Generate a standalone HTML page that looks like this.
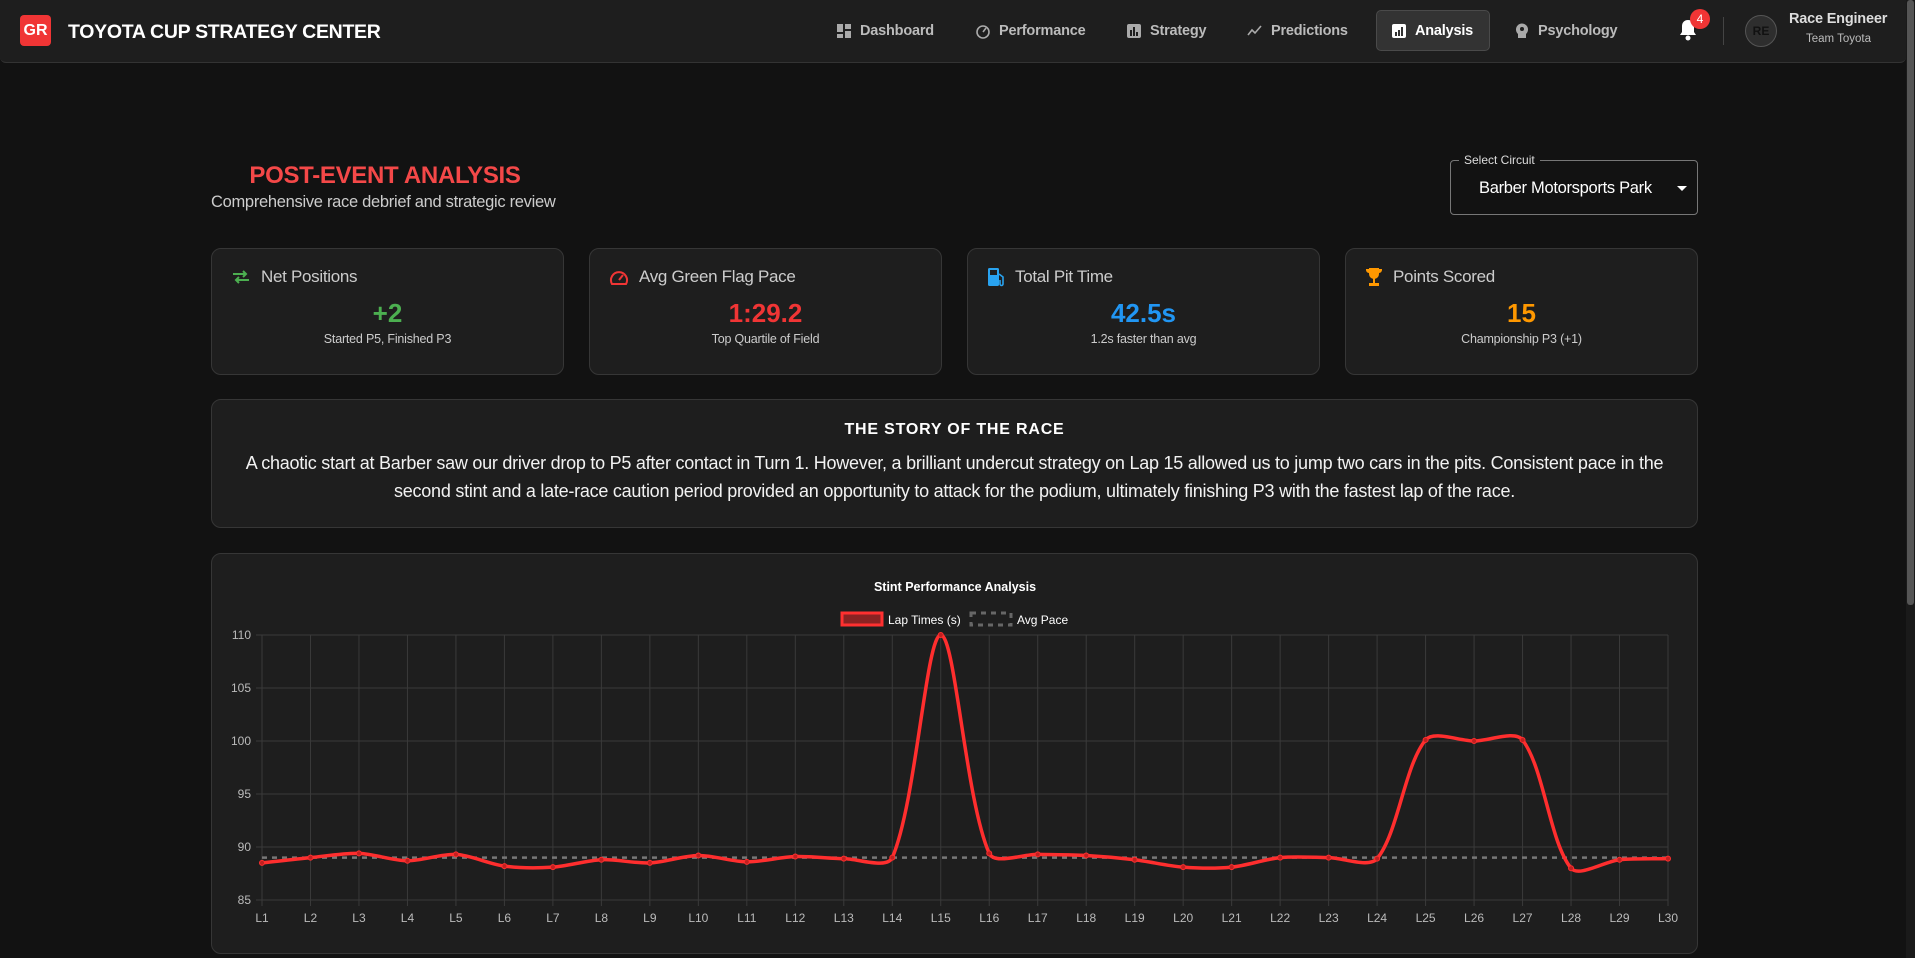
<!DOCTYPE html>
<html><head><meta charset="utf-8">
<style>
*{box-sizing:border-box;margin:0;padding:0}
body{width:1915px;height:958px;overflow:hidden;background:#121212;font-family:"Liberation Sans",sans-serif;color:#fff;position:relative}
.abs{position:absolute}
header{position:absolute;left:0;top:0;width:1906px;height:63px;background:#1e1e1e;border-bottom:1px solid #333;border-radius:0 0 6px 6px}
.logo{left:20px;top:15px;width:31px;height:31px;background:#f03535;border-radius:4px;font-weight:bold;font-size:16px;text-align:center;line-height:31px}
.brand{left:68px;top:21px;font-size:19.5px;font-weight:bold;letter-spacing:-0.3px}
.nav{top:23px;font-size:14.5px;font-weight:bold;color:#bbb;display:flex;align-items:center;gap:8px;letter-spacing:-0.2px}
.nav svg{width:16px;height:16px}
.active{left:1376px;top:10px;width:114px;height:41px;background:#333;border:1px solid #4a4a4a;border-radius:5px}
.card{position:absolute;background:#1e1e1e;border:1px solid #363636;border-radius:10px}
.ct{position:absolute;left:0;top:18px;font-size:17px;color:#ccc;display:flex;align-items:center;gap:10px;letter-spacing:-0.3px}
.cv{position:absolute;left:0;right:0;top:49px;text-align:center;font-size:26px;font-weight:bold}
.cs{position:absolute;left:0;right:0;top:83px;text-align:center;font-size:12.5px;color:#ccc;letter-spacing:-0.2px}
.scroll{right:0;top:0;width:9px;height:958px;background:#1a1a1a}
.thumb{right:1px;top:0;width:7px;height:605px;background:#555;border-radius:3px}
</style></head><body>
<header>
<div class="abs logo">GR</div>
<div class="abs brand">TOYOTA CUP STRATEGY CENTER</div>
<div class="abs active"></div>
<div class="abs nav" style="left:836px"><svg viewBox="0 0 16 16"><rect x="1" y="1" width="6" height="8" fill="#aaa"/><rect x="9" y="1" width="6" height="5" fill="#aaa"/><rect x="1" y="11" width="6" height="4" fill="#aaa"/><rect x="9" y="8" width="6" height="7" fill="#aaa"/></svg><span>Dashboard</span></div>
<div class="abs nav" style="left:975px"><svg viewBox="0 0 16 16"><circle cx="8" cy="9" r="6" fill="none" stroke="#aaa" stroke-width="1.6"/><path d="M8 9l3-4" stroke="#aaa" stroke-width="1.6"/></svg><span>Performance</span></div>
<div class="abs nav" style="left:1126px"><svg viewBox="0 0 16 16"><rect x="1" y="1" width="14" height="14" rx="2" fill="#aaa"/><rect x="4" y="7" width="2" height="6" fill="#1e1e1e"/><rect x="7" y="4" width="2" height="9" fill="#1e1e1e"/><rect x="10" y="9" width="2" height="4" fill="#1e1e1e"/></svg><span>Strategy</span></div>
<div class="abs nav" style="left:1247px"><svg viewBox="0 0 16 16"><path d="M1 12l4-5 3 3 6-7" fill="none" stroke="#aaa" stroke-width="1.6"/></svg><span>Predictions</span></div>
<div class="abs nav" style="left:1391px;color:#fff"><svg viewBox="0 0 16 16"><rect x="1" y="1" width="14" height="14" rx="2" fill="#fff"/><rect x="4" y="9" width="2" height="4" fill="#333"/><rect x="7" y="7" width="2" height="6" fill="#333"/><rect x="10" y="4" width="2" height="9" fill="#333"/></svg><span>Analysis</span></div>
<div class="abs nav" style="left:1514px"><svg viewBox="0 0 16 16"><path d="M4 15v-4a6 6 0 1 1 8 0v4z" fill="#aaa"/><circle cx="8" cy="6" r="2" fill="#1e1e1e"/></svg><span>Psychology</span></div>
<svg class="abs" style="left:1679px;top:19px" width="18" height="22" viewBox="0 0 18 22"><path d="M9 1c-4 0-6 3-6 6v6l-2 3h16l-2-3V7c0-3-2-6-6-6z" fill="#fff"/><circle cx="9" cy="19" r="2.5" fill="#fff"/></svg>
<div class="abs" style="left:1690px;top:9px;width:20px;height:20px;border-radius:50%;background:#f03535;font-size:12px;text-align:center;line-height:20px">4</div>
<div class="abs" style="left:1723px;top:17px;width:1px;height:28px;background:#444"></div>
<div class="abs" style="left:1745px;top:15px;width:32px;height:32px;border-radius:50%;background:#2e2e2e;border:1px solid #555;color:#111;font-size:12px;font-weight:bold;text-align:center;line-height:30px">RE</div>
<div class="abs" style="left:1789px;top:11px;font-size:14.5px;font-weight:bold;color:#ddd;letter-spacing:-0.2px">Race Engineer</div>
<div class="abs" style="left:1806px;top:33px;font-size:11.5px;color:#bbb">Team Toyota</div>
</header>
<div class="abs scroll"></div>
<div class="abs thumb"></div>

<div class="abs" style="left:211px;top:162px;width:348px;text-align:center;font-size:24px;font-weight:bold;color:#f44848;letter-spacing:-0.3px">POST-EVENT ANALYSIS</div>
<div class="abs" style="left:211px;top:193px;font-size:16.5px;color:#ccc;letter-spacing:-0.3px">Comprehensive race debrief and strategic review</div>

<div class="abs" style="left:1450px;top:160px;width:248px;height:55px;border:1px solid #777;border-radius:4px">
<div class="abs" style="left:8px;top:-8px;background:#121212;padding:0 5px;font-size:12px;color:#ddd">Select Circuit</div>
<div class="abs" style="left:28px;top:18px;font-size:16.5px;color:#fff;letter-spacing:-0.3px">Barber Motorsports Park</div>
<div class="abs" style="left:226px;top:25px;width:0;height:0;border-left:5px solid transparent;border-right:5px solid transparent;border-top:5px solid #fff"></div>
</div>

<div class="card" style="left:211px;top:248px;width:353px;height:127px">
<div class="ct" style="left:19px"><svg width="20" height="16" viewBox="0 0 20 16"><path d="M2 5h13M12 2l3 3-3 3M18 11H5M8 8l-3 3 3 3" fill="none" stroke="#4caf50" stroke-width="2"/></svg>Net Positions</div>
<div class="cv" style="color:#4caf50">+2</div>
<div class="cs">Started P5, Finished P3</div></div>
<div class="card" style="left:589px;top:248px;width:353px;height:127px">
<div class="ct" style="left:19px"><svg width="20" height="18" viewBox="0 0 20 18"><path d="M3 16a8 8 0 1 1 14 0z" fill="none" stroke="#f03535" stroke-width="2"/><path d="M10 12l4-5" stroke="#f03535" stroke-width="2"/></svg>Avg Green Flag Pace</div>
<div class="cv" style="color:#f03535">1:29.2</div>
<div class="cs">Top Quartile of Field</div></div>
<div class="card" style="left:967px;top:248px;width:353px;height:127px">
<div class="ct" style="left:19px"><svg width="18" height="20" viewBox="0 0 18 20"><rect x="1" y="1" width="11" height="18" rx="1.5" fill="#29a3f0"/><rect x="3" y="3" width="7" height="5" fill="#1e1e1e"/><path d="M12 7l4 3v7a1.5 1.5 0 0 1-3 0v-4" fill="none" stroke="#29a3f0" stroke-width="1.6"/></svg>Total Pit Time</div>
<div class="cv" style="color:#2196f3">42.5s</div>
<div class="cs">1.2s faster than avg</div></div>
<div class="card" style="left:1345px;top:248px;width:353px;height:127px">
<div class="ct" style="left:19px"><svg width="18" height="20" viewBox="0 0 18 20"><path d="M4 1h10v6a5 5 0 0 1-10 0z M1 2h3v4a3 3 0 0 1-3-3z M17 2h-3v4a3 3 0 0 0 3-3z" fill="#ff9800"/><rect x="8" y="11" width="2" height="5" fill="#ff9800"/><rect x="4" y="16" width="10" height="3" fill="#ff9800"/></svg>Points Scored</div>
<div class="cv" style="color:#ff9800">15</div>
<div class="cs">Championship P3 (+1)</div></div>

<div class="card" style="left:211px;top:399px;width:1487px;height:129px">
<div class="abs" style="left:0;right:0;top:21px;text-align:center;font-size:16px;font-weight:bold;letter-spacing:0.8px">THE STORY OF THE RACE</div>
<div class="abs" style="left:0;right:0;top:49px;text-align:center;font-size:18px;line-height:28px;color:#f2f2f2;letter-spacing:-0.25px;white-space:nowrap">A chaotic start at Barber saw our driver drop to P5 after contact in Turn 1. However, a brilliant undercut strategy on Lap 15 allowed us to jump two cars in the pits. Consistent pace in the<br>second stint and a late-race caution period provided an opportunity to attack for the podium, ultimately finishing P3 with the fastest lap of the race.</div>
</div>

<div class="card" style="left:211px;top:553px;width:1487px;height:401px"></div>
<svg id="chart" class="abs" style="left:0;top:0" width="1915" height="958"></svg>

<script>
const categories = ["L1","L2","L3","L4","L5","L6","L7","L8","L9","L10","L11","L12","L13","L14","L15","L16","L17","L18","L19","L20","L21","L22","L23","L24","L25","L26","L27","L28","L29","L30"];
const lapTimes = [88.5,89.0,89.4,88.7,89.3,88.2,88.1,88.8,88.5,89.2,88.6,89.1,88.9,89.0,110,89.4,89.3,89.2,88.8,88.1,88.1,89.0,89.0,88.9,100.1,100.0,100.1,88.0,88.8,88.9];
const avgPace = 89.0;
const yTicks = [85,90,95,100,105,110];

const NS="http://www.w3.org/2000/svg";
const svg=document.getElementById('chart');
const L=262,R=1668,T=635,B=900,yMin=85,yMax=110;
const xPos=i=>L+(R-L)*i/(categories.length-1);
const yPos=v=>B-(B-T)*(v-yMin)/(yMax-yMin);
function mk(tag,attrs,parent){const e=document.createElementNS(NS,tag);for(const k in attrs)e.setAttribute(k,attrs[k]);(parent||svg).appendChild(e);return e;}

let t=mk('text',{x:955,y:591,'text-anchor':'middle','font-size':'12.5','font-weight':'bold',fill:'#fff','font-family':'Liberation Sans'});
t.textContent='Stint Performance Analysis';


let lg=mk('g',{});


mk('rect',{x:842,y:613,width:40,height:12,fill:'#8b2323',stroke:'#ff3030','stroke-width':3},lg);
t=mk('text',{x:888,y:624,'font-size':12,fill:'#fff','font-family':'Liberation Sans'},lg);t.textContent='Lap Times (s)';
mk('rect',{x:971,y:613,width:40,height:12,fill:'none',stroke:'#666','stroke-width':3,'stroke-dasharray':'5 5'},lg);
t=mk('text',{x:1017,y:624,'font-size':12,fill:'#fff','font-family':'Liberation Sans'},lg);t.textContent='Avg Pace';

yTicks.forEach(v=>{
  const y=yPos(v);
  const g=mk('line',{x1:L-6,x2:R,y1:y,y2:y,stroke:'#3a3a3a','stroke-width':1});
  
  
  const tx=mk('text',{x:L-11,y:y+4,'text-anchor':'end','font-size':12,fill:'#bbb','font-family':'Liberation Sans'});
  tx.textContent=v;
  
  
});
categories.forEach((c,i)=>{
  const x=xPos(i);
  const g=mk('line',{x1:x,x2:x,y1:T,y2:B+6,stroke:'#3a3a3a','stroke-width':1});
  
  
  const tx=mk('text',{x:x,y:922,'text-anchor':'middle','font-size':12,fill:'#bbb','font-family':'Liberation Sans'});
  tx.textContent=c;
  
  
});
const av=mk('line',{x1:L,x2:R,y1:yPos(avgPace),y2:yPos(avgPace),stroke:'#777','stroke-width':2.5,'stroke-dasharray':'5 5'});


const pts=lapTimes.map((v,i)=>({x:xPos(i),y:yPos(v)}));
const tension=0.3;
let d='M'+pts[0].x+' '+pts[0].y;
const cps=pts.map((p,i)=>{
  const pr=pts[i-1]||p, nx=pts[i+1]||p;
  const d01=Math.hypot(p.x-pr.x,p.y-pr.y), d12=Math.hypot(nx.x-p.x,nx.y-p.y);
  let s01=d01/(d01+d12||1), s12=d12/(d01+d12||1);
  const fa=tension*s01, fb=tension*s12;
  const cl=(v)=>Math.max(T,Math.min(B,v));
  return {px:p.x-fa*(nx.x-pr.x),py:cl(p.y-fa*(nx.y-pr.y)),nx:p.x+fb*(nx.x-pr.x),ny:cl(p.y+fb*(nx.y-pr.y))};
});
for(let i=1;i<pts.length;i++){
  d+=` C${cps[i-1].nx} ${cps[i-1].ny} ${cps[i].px} ${cps[i].py} ${pts[i].x} ${pts[i].y}`;
}
const ln=mk('path',{d:d,fill:'none',stroke:'#ff2e2e','stroke-width':3.5});


pts.forEach(p=>{
  const c=mk('circle',{cx:p.x,cy:p.y,r:2.5,fill:'#c02020',stroke:'#ff2e2e','stroke-width':1});
  
  
});
</script>
</body></html>
